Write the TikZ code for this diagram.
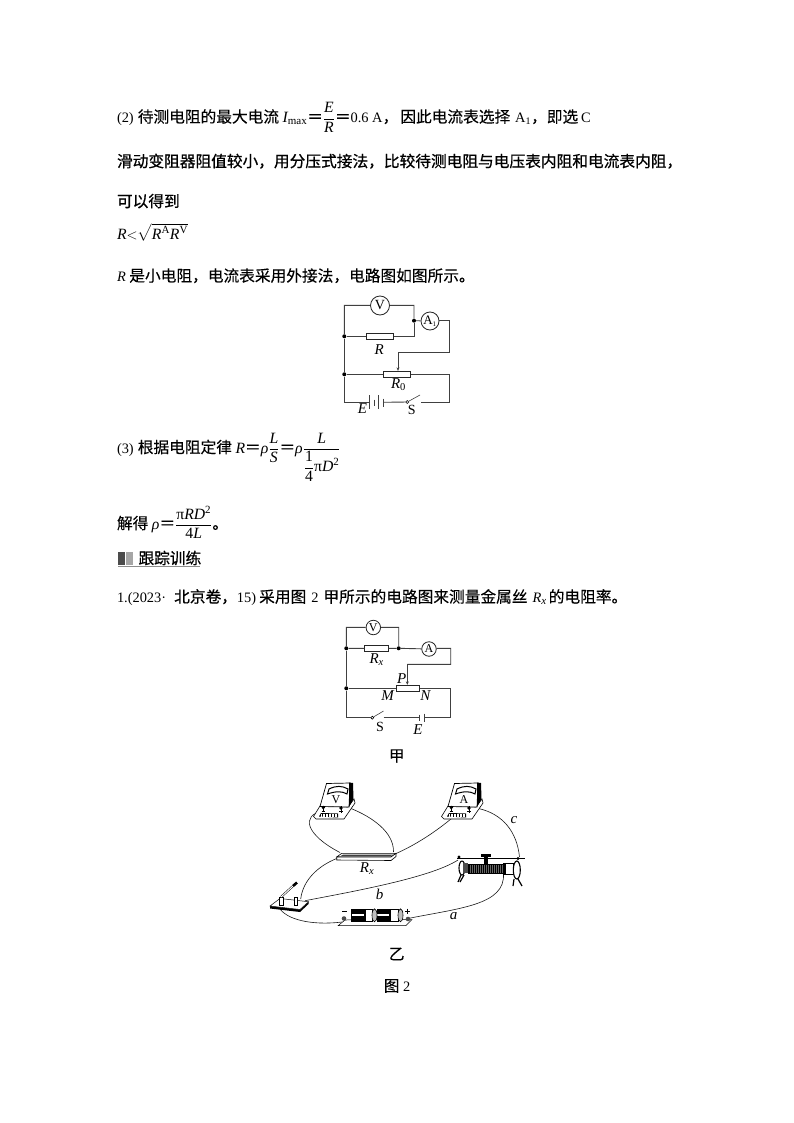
\documentclass[tikz,border=0pt]{standalone}
\usepackage{amsmath}
\usepackage{fontspec}
\setmainfont{Liberation Serif}
\newfontfamily\cjk[FakeBold=0.2]{Noto Sans CJK SC}
\newfontfamily\cjkb[FakeBold=0.7]{Noto Sans CJK SC}
\usetikzlibrary{arrows.meta,calc}
\newcommand\la[1]{{\rmfamily\fontsize{14.4}{18}\selectfont #1}}
\newcommand\lit[1]{{\rmfamily\itshape\fontsize{14.4}{18}\selectfont #1}}
\newcommand\mi[1]{\text{\rmfamily\itshape #1}}
\newcommand\mr[1]{\text{\rmfamily #1}}
\newcommand\zc{\char"FF0C\relax}
\newcommand\eqs{\mbox{\cjk\char"FF1D\relax}}
\newcommand\appmeter[1]{%
  \fill[white,draw=black,line width=.6pt] (313.5,816.5) -- (320,806) -- (348,807) -- (354,799) -- (355,803) -- (344,819) -- (316,819) -- cycle;
  \fill[white,draw=black,line width=.7pt] (326.5,783.5) -- (350,783) -- (349,807) -- (320,806.5) -- cycle;
  \fill[black] (349,782.5) -- (353,783) -- (353.5,799) -- (349,807) -- cycle;
  \draw[line width=1pt] (329,789) .. controls (336,785.5) and (342,785.5) .. (348,789) -- (347,794) .. controls (342,791) and (336,791) .. (327.5,794) -- cycle;
  \fill[black] (321,813) -- (338,813.5) -- (338,817.5) -- (319,816.5) -- cycle;
  \foreach \q in {321.5,323,...,337.5}{\draw[white,line width=.4pt] (\q,813.5) -- (\q,817);}
  \fill[black] (323.3,807.5) circle[radius=1.8] (341,808) circle[radius=1.8];
  \draw[line width=.8pt] (323.3,806) -- (323.3,811) (341,806) -- (341,811);
  \draw[line width=.6pt] (321.5,811.5) -- (325,811.5) (339.3,811.5) -- (342.7,811.5) (341,809.8) -- (341,813);
  \node[meterlabel] at (336,800) {#1};
}
\tikzset{
  x=1pt,y=-1pt,
  txt/.style={anchor=base west,inner sep=0pt,outer sep=0pt,font=\fontsize{15.7}{18}\selectfont\cjk,text=black},
  lbl/.style={inner sep=0pt,font=\rmfamily\itshape\fontsize{15}{16}\selectfont},
  meterlabel/.style={inner sep=0pt,font=\rmfamily\fontsize{12}{13}\selectfont},
  wire/.style={line width=.9pt,draw=black!75},
  thin wire/.style={line width=.6pt,draw=black!90},
  res/.style={draw=black!85,line width=.9pt,fill=white,minimum width=27pt,minimum height=6pt,inner sep=0pt},
  resb/.style={res,minimum width=23.5pt},
  mtr/.style={circle,draw=black!85,line width=.8pt,fill=white,inner sep=0pt,font=\rmfamily\fontsize{14}{15}\selectfont},
  jn/.style={circle,fill=black,inner sep=0pt,minimum size=4pt},
  sw/.style={circle,draw=black,line width=.6pt,fill=white,inner sep=0pt,minimum size=3pt},
  tip/.style={-{Stealth[length=3.5pt,width=3pt]}},
}
\begin{document}
\begin{tikzpicture}
\path[use as bounding box,fill=white] (0,0) rectangle (794,1123);

% ---------- text ----------
\node[txt] (t1) at (117,122.5) {\la{(2)}\hspace{4pt}待测电阻的最大电流 $\mi{I}_{\mr{max}}\eqs\dfrac{\mi{E}}{\mi{R}}\eqs$\la{0.6 A}\zc\hspace{2pt}因此电流表选择\hspace{5pt}\la{A\textsubscript{1}}\zc 即选\hspace{3pt}\la{C}};
\node[txt] (t2) at (117,167) {\cjkb 滑动变阻器阻值较小\zc 用分压式接法\zc 比较待测电阻与电压表内阻和电流表内阻\zc};
\node[txt] (t3) at (117,207) {\cjkb 可以得到};
\node[txt] (t4) at (117,240) {$\mi{R}{<}\sqrt{\mi{R}^{\mr{A}}\mi{R}^{\mr{V}}}$};
\node[txt] (t5) at (117,281.5) {\lit{R} 是小电阻\zc 电流表采用外接法\zc 电路图如图所示。};
\node[txt] (t6) at (117,453) {\la{(3)}\hspace{4pt}根据电阻定律 $\mi{R}\eqs\mi{ρ}\dfrac{\mi{L}}{\mi{S}}\eqs\mi{ρ}\dfrac{\mi{L}}{\dfrac{\mr{1}}{\mr{4}}\mr{π}\mi{D}^{\mr{2}}}$};
\node[txt] (t7) at (117,529) {解得 $\mi{ρ}\eqs\dfrac{\mr{π}\mi{RD}^{\mr{2}}}{\mr{4}\mi{L}}$。};
\node[txt] (t8) at (138.5,564) {\cjkb 跟踪训练};
\node[txt] (t9) at (117,602.5) {\la{1.(2023·}\hspace{8pt}{\cjkb 北京卷\zc}\la{15)}\hspace{3pt}采用图\hspace{5pt}\la{2}\hspace{5pt}甲所示的电路图来测量金属丝\hspace{5pt}\lit{R}\textsubscript{\rmfamily\itshape x}\hspace{2pt}的电阻率。};
\fill[black!70] (118.3,551.5) rectangle (125,565);
\fill[black!35] (126,551.5) rectangle (133.3,565);
\draw[black!45,line width=.8pt] (118,566) -- (200,566);

% ---------- circuit 1 ----------
\coordinate (a1) at (344.3,305.3);
\coordinate (a2) at (414,305.3);
\coordinate (a3) at (449.3,320.7);
\coordinate (a4) at (449.3,352.3);
\coordinate (a5) at (398,352.3);
\coordinate (a6) at (449.3,374.3);
\coordinate (a7) at (449.3,402.3);
\coordinate (a8) at (344.3,402.3);
\coordinate (b1) at (369.3,402.3);
\coordinate (b4) at (383.3,402.3);
\coordinate (a9) at (420.5,402.3);
\coordinate (a10) at (420,395);
\node[res] (R) at (379.7,336.3) {};
\node[res] (R0) at (397,374.3) {};
\node[mtr,minimum size=19pt] (V1) at (380,305.5) {V};
\node[mtr,minimum size=18pt,font=\rmfamily\fontsize{13}{14}\selectfont] (A1) at (430,321) {A\textsubscript{\fontsize{7}{8}\selectfont 1}};
\node[jn] (j1) at (344.3,336.3) {};
\node[jn] (j2) at (344.3,374.3) {};
\node[jn] (j3) at (414,320.7) {};
\node[sw] (s1) at (407.3,402) {};
\draw[wire] (j1) -- (a1) -- (V1) (V1) -- (a2) -- (j3) -- (A1);
\draw[wire] (j1) -- (R) (R) -| (j3);
\draw[wire] (A1.east |- a3) -- (a3) -- (a4) -- (a5);
\draw[wire,tip] (a5) -- (R0.north -| a5);
\draw[wire] (j2) -- (R0) (R0) -- (a6) -- (a7) -- (a9);
\draw[wire] (j1) -- (j2) -- (a8) -- (b1);
\draw[wire] (369.3,395.3) -- (369.3,409.3);
\draw[wire] (374,399.5) -- (374,405.5);
\draw[wire] (378.7,395.3) -- (378.7,409.3);
\draw[wire] (383.3,398.5) -- (383.3,406.5);
\draw[wire] (b4) -- (s1);
\draw[wire,line width=.6pt] (s1) -- (a10);
\node[lbl] (lR) at (379.3,349.3) {R};
\node[lbl] (lR0) at (398.5,385) {R\textsubscript{\upshape 0}};
\node[lbl] (lE) at (362.5,408.5) {E};
\node[lbl,font=\rmfamily\fontsize{14}{15}\selectfont] (lS) at (411.7,410) {S};

% ---------- circuit 2 ----------
\coordinate (c1) at (346.3,627.3);
\coordinate (c2) at (398.7,627.3);
\coordinate (c3) at (450.7,648.3);
\coordinate (c4) at (450.7,664.3);
\coordinate (c5) at (407.3,664.3);
\coordinate (c6) at (450.7,688.3);
\coordinate (c7) at (450.7,717.7);
\coordinate (c8) at (346.3,717.7);
\coordinate (c9) at (383.5,717.7);
\coordinate (c10) at (383.5,711);
\coordinate (c11) at (419.7,717.7);
\coordinate (c12) at (424,717.7);
\node[resb] (Rx) at (376.5,648.5) {};
\node[resb] (MN) at (408,688.3) {};
\node[mtr,minimum size=14.5pt,font=\rmfamily\fontsize{12}{13}\selectfont] (V2) at (373.3,627.5) {V};
\node[mtr,minimum size=14.5pt,font=\rmfamily\fontsize{12}{13}\selectfont] (A2) at (429,649) {A};
\node[jn] (k1) at (346.3,648.3) {};
\node[jn] (k2) at (398.7,648.3) {};
\node[jn] (k3) at (346.3,688.3) {};
\node[sw] (s2) at (372.3,717.7) {};
\draw[wire] (k1) -- (c1) -- (V2) (V2) -- (c2) -- (k2);
\draw[wire] (k1) -- (Rx) (Rx) -- (k2) -- (A2) (A2.east |- c3) -- (c3) -- (c4) -- (c5);
\draw[wire,tip] (c5) -- (MN.north -| c5);
\draw[wire] (k1) -- (k3) -- (c8) -- (s2);
\draw[wire] (k3) -- (MN) (MN) -- (c6) -- (c7) -- (c12);
\draw[wire,line width=.6pt] (s2) -- (c10);
\draw[wire] (c9) -- (c11);
\draw[wire,draw=white,line width=2pt] (421,717.7) -- (423,717.7);
\draw[wire] (419.7,714.5) -- (419.7,721);
\draw[wire] (424,713.5) -- (424,722);
\node[lbl] (lRx) at (376.7,660) {R\textsubscript{x}};
\node[lbl] (lP) at (401.7,679) {P};
\node[lbl] (lM) at (387.7,695.7) {M};
\node[lbl] (lN) at (425.3,695.7) {N};
\node[lbl,font=\rmfamily\fontsize{14}{15}\selectfont] (lS2) at (380,726.7) {S};
\node[lbl] (lE2) at (418,729.3) {E};
\node[txt,anchor=center] (jia) at (396.7,756) {甲};

% ---------- apparatus ----------
\coordinate (w1) at (323.3,811);
\coordinate (w2) at (340,852.5);
\coordinate (w3) at (351,808.5);
\coordinate (w4) at (393.5,852);
\coordinate (w5) at (336.7,858.5);
\coordinate (w6) at (300.7,899);
\coordinate (w7) at (395,854);
\coordinate (w8) at (451.5,818.5);
\coordinate (w9) at (305,900.7);
\coordinate (w10) at (458,860);
\coordinate (w11) at (280,909);
\coordinate (w12) at (342,922);
\coordinate (w13) at (408,918.5);
\coordinate (w14) at (503.5,874);
\coordinate (w15) at (478.5,808.5);
\coordinate (w16) at (519.5,857);
\draw[thin wire] (w1) .. controls (300,815) and (306,835) .. (w2);
\draw[thin wire] (w3) .. controls (372,817) and (394,832) .. (w4);
\draw[thin wire] (w5) .. controls (318,866) and (303,880) .. (w6);
\draw[thin wire] (w7) .. controls (420,843) and (440,828) .. (w8);
\draw[thin wire] (w9) .. controls (350,892) and (430,878) .. (w10);
\draw[thin wire] (w11) .. controls (290,922) and (318,925) .. (w12);
\draw[thin wire] (w13) .. controls (460,908) and (505,905) .. (w14);
\draw[thin wire] (w15) .. controls (503,814) and (517,832) .. (w16);
\appmeter{V}
\begin{scope}[shift={(128,0)}]
\appmeter{A}
\end{scope}
% Rx bar
\fill[white,draw=black,line width=.6pt] (341.7,853.3) -- (396,853.3) -- (391,857) -- (336.7,857) -- cycle;
\fill[black!75] (343,854.6) -- (393,854.6) -- (391,855.8) -- (341,855.8) -- cycle;
\fill[white,draw=black,line width=.6pt] (336.7,857) -- (391,857) -- (396,853.3) -- (396,856.5) -- (391,860.5) -- (336.7,860) -- cycle;
\node[lbl] (lRx2) at (367,868.5) {R\textsubscript{x}};
\node[lbl] (lb) at (379.5,894) {b};
\node[lbl] (la) at (453.5,916) {a};
\node[lbl] (lc) at (514,820) {c};
% switch
\fill[black] (270,906) -- (300,909.5) -- (308.5,902) -- (308.5,904) -- (300,912) -- (270,908.5) -- cycle;
\fill[white,draw=black,line width=.5pt] (270,906) -- (280,898.5) -- (308.5,901.7) -- (300,909.5) -- cycle;
\fill[white,draw=black,line width=.5pt] (279.5,897) rectangle (283,905);
\fill[white,draw=black,line width=.5pt] (294,897) rectangle (297.5,905);
\draw[line width=2pt,black] (281,897) -- (293,886);
\draw[line width=1pt,white] (281,897) -- (293,886);
\draw[line width=2.6pt,black] (293,886) -- (297,882.5);
% battery
\fill[white,draw=black,line width=.5pt] (338.3,925.5) -- (345,920) -- (412,919.5) -- (406,925.5) -- cycle;
\fill[black!70] (344,918.5) circle[radius=2.3];
\fill[black!70] (408,919) circle[radius=2.3];
\draw[line width=.7pt] (342,911.5) -- (347,911.5);
\draw[line width=.7pt] (405,911) -- (410,911) (407.5,908.5) -- (407.5,913.5);
\draw[black,line width=.5pt,fill=white] (351.5,909.2) rectangle (372,921.5);
\fill[black] (351.5,909.2) rectangle (366,921.5);
\fill[white] (351.5,914.2) rectangle (364,916);
\draw[black,line width=.5pt,fill=white] (377,909.2) rectangle (398,921.5);
\fill[black] (377,909.2) rectangle (391,921.5);
\fill[white] (377,914.2) rectangle (389,916);
\draw[black,line width=.6pt,fill=black!25] (374.5,915.3) ellipse[x radius=2.5,y radius=6.5];
\draw[black,line width=.6pt,fill=black!25] (400.5,915.3) ellipse[x radius=2.5,y radius=6.5];
% rheostat
\draw[line width=1.3pt] (457,858.5) -- (525,858.5);
\draw[black,line width=.5pt,fill=black!60] (468,864) rectangle (503,873.5);
\foreach \q in {469,471,...,501}{\draw[black,line width=.6pt] (\q,864) -- (\q,873.5);}
\draw[black,line width=.6pt,fill=white] (503,863.5) rectangle (513,874.5);
\fill[black] (503,863.5) rectangle (506,874.5);
\draw[line width=1.1pt,fill=white] (516.8,870) ellipse[x radius=3.5,y radius=9];
\draw[line width=1.1pt,fill=white] (462,868) ellipse[x radius=3,y radius=7];
\fill[black!70] (463,863) rectangle (468,873);
\draw[line width=1.2pt] (461,875) -- (458,882) (464,875) -- (460,882);
\draw[line width=1.2pt] (514,879) -- (513,886) (518,879) -- (522,886);
\fill[black] (481,853.5) rectangle (491,856.5);
\fill[black] (484,855) rectangle (488,864);
\fill[black] (459,857) circle[radius=1.7] (518,858.5) circle[radius=1.7];

\node[txt,anchor=center] (yi) at (396.7,954) {乙};
\node[txt,anchor=center] (fig) at (397,986) {图 \la{2}};
\end{tikzpicture}
\end{document}
